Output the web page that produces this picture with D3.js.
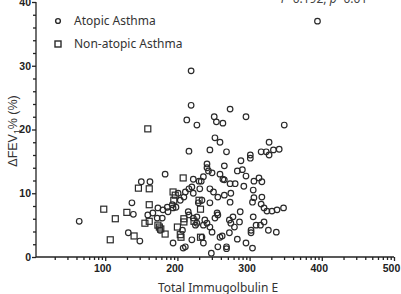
<!DOCTYPE html>
<html>
<head>
<meta charset="utf-8">
<script src="https://cdn.jsdelivr.net/npm/d3@7"></script>
<style>
  body { margin: 0; background: #fff; }
  svg { display: block; }
</style>
</head>
<body>
<div id="chart"></div>
<script>
// Atopic asthma: [total IgE, delta FEV1 %]
const atopic = [
  [394, 37.0], [219, 29.2], [219, 23.8], [273, 23.2], [213, 21.5], [227, 20.7],
  [251, 22.0], [295, 22.0], [254, 21.2], [263, 21.0], [348, 20.7], [252, 18.7],
  [259, 18.0], [327, 18.0], [216, 16.6], [245, 16.8], [268, 16.5], [316, 16.5],
  [323, 16.5], [333, 16.8], [341, 16.9], [327, 16.0], [301, 16.0], [301, 15.5],
  [288, 15.1], [241, 14.6], [265, 14.3], [241, 14.0], [243, 13.5], [248, 13.2],
  [283, 13.5], [290, 13.7], [259, 13.0], [295, 12.7], [236, 12.6], [263, 12.2],
  [265, 12.1], [313, 12.4], [306, 11.9], [317, 11.8], [233, 11.9], [273, 11.5],
  [280, 11.5], [292, 11.1], [231, 10.7], [245, 10.7], [250, 10.2], [274, 10.0],
  [305, 10.5], [265, 9.7], [256, 9.4], [317, 9.4], [306, 9.3], [183, 13.0],
  [162, 11.8], [222, 12.2], [230, 11.9], [216, 10.7], [220, 11.0], [211, 10.2],
  [64, 5.6], [137, 8.5], [139, 6.7], [132, 3.8], [148, 2.5], [159, 6.6],
  [166, 6.9], [173, 7.7], [172, 6.1], [179, 6.1], [180, 7.4], [186, 7.8],
  [187, 7.1], [176, 4.2], [194, 2.2], [193, 8.2], [194, 7.7], [198, 7.8],
  [207, 4.2], [208, 1.4], [211, 1.6], [220, 2.7], [338, 7.4], [347, 7.7],
  [331, 7.2], [324, 7.2], [316, 8.3], [320, 7.7], [304, 8.6], [305, 6.3],
  [309, 5.0], [315, 5.0], [320, 5.5], [326, 4.2], [337, 3.9], [302, 4.2],
  [302, 3.8], [295, 2.2], [304, 1.4], [283, 2.8], [287, 7.1], [286, 5.5],
  [277, 6.3], [272, 5.8], [274, 5.3], [279, 4.7], [272, 3.8], [273, 8.6],
  [268, 1.6], [268, 1.3], [256, 1.6], [247, 0.6], [259, 3.1], [262, 3.3],
  [255, 6.9], [256, 6.6], [252, 6.1], [238, 5.8], [241, 5.3], [236, 5.0],
  [245, 4.7], [248, 3.9], [236, 2.2], [234, 3.1], [245, 8.5], [234, 8.9],
  [215, 7.1], [216, 6.6], [222, 6.1], [227, 6.3], [227, 5.3], [225, 5.0],
  [229, 8.5], [201, 10.0], [204, 8.9], [222, 10.0], [209, 9.4], [150, 11.8]
];

// Non-atopic asthma
const nonAtopic = [
  [159, 20.1], [98, 7.5], [114, 6.0], [107, 2.7], [140, 3.3], [130, 7.0],
  [161, 8.2], [161, 10.7], [146, 10.8], [155, 5.3], [161, 5.6], [173, 5.0],
  [175, 4.7], [194, 10.2], [197, 9.7], [208, 12.4], [177, 4.4], [183, 3.6],
  [200, 4.7], [204, 3.5], [205, 3.1], [209, 6.0], [209, 5.5], [195, 8.9],
  [230, 8.9], [232, 7.5], [223, 5.6], [232, 3.1]
];

const yTicks = [0, 10, 20, 30, 40];
const xTicks = [100, 200, 300, 400, 500];

const W = 401, H = 294;

const svg = d3.select("#chart")
  .append("svg")
  .attr("width", W)
  .attr("height", H);

const x = d3.scaleLinear().domain([0, 500]).range([33, 394]);
const y = d3.scaleLinear().domain([0, 40]).range([257, 2]);
const axisX = 36;

// minor ticks
const yMinor = d3.range(0, 41, 2).filter(v => v % 10 !== 0);
const xMinor = [];
for (let b = 0; b < 500; b += 100) {
  for (let k = 2; k <= 9; k++) xMinor.push(b + 100 * Math.log10(k));
}

// y axis
const gy = svg.append("g").attr("transform", `translate(${axisX},0)`);
gy.call(d3.axisLeft(y).tickValues(yTicks).tickSize(4).tickPadding(1).tickFormat(d3.format("d")));
gy.append("g").call(d3.axisLeft(y).tickValues(yMinor).tickSize(3).tickFormat(""))
  .select(".domain").remove();
gy.selectAll(".domain").attr("d", `M0,${y(0)}V${y(40)}`);

// x axis
const gx = svg.append("g").attr("transform", `translate(0,${y(0)})`);
gx.call(d3.axisBottom(x).tickValues(xTicks).tickSize(4).tickPadding(4).tickFormat(d3.format("d")));
gx.selectAll(".tick text").attr("dx", -3);
gx.append("g").call(d3.axisBottom(x).tickValues(xMinor.filter(v => x(v) > axisX + 2)).tickSize(3).tickFormat(""))
  .select(".domain").remove();
gx.selectAll(".domain").attr("d", `M${axisX},0H${x(500)}`);

svg.selectAll(".domain, .tick line")
  .attr("stroke", "#222")
  .attr("stroke-width", 1.3);
svg.selectAll(".tick text")
  .attr("fill", "#222")
  .style("font-family", "Liberation Sans, Arial, sans-serif")
  .style("font-size", "10.5px")
  .style("font-weight", "bold");

// points
svg.append("g").selectAll("circle")
  .data(atopic)
  .join("circle")
  .attr("cx", d => x(d[0]))
  .attr("cy", d => y(d[1]))
  .attr("r", 2.8)
  .attr("fill", "none")
  .attr("stroke", "#2a2a2a")
  .attr("stroke-width", 1.2);

const sq = 6;
svg.append("g").selectAll("rect")
  .data(nonAtopic)
  .join("rect")
  .attr("x", d => x(d[0]) - sq / 2)
  .attr("y", d => y(d[1]) - sq / 2)
  .attr("width", sq)
  .attr("height", sq)
  .attr("fill", "none")
  .attr("stroke", "#2a2a2a")
  .attr("stroke-width", 1.2);

// legend
const legend = svg.append("g");
legend.append("circle")
  .attr("cx", 58).attr("cy", 21).attr("r", 2.4)
  .attr("fill", "none").attr("stroke", "#2a2a2a").attr("stroke-width", 1.4);
legend.append("rect")
  .attr("x", 55).attr("y", 41).attr("width", 6).attr("height", 6)
  .attr("fill", "none").attr("stroke", "#2a2a2a").attr("stroke-width", 1.4);
legend.selectAll("text")
  .data(["Atopic Asthma", "Non-atopic Asthma"])
  .join("text")
  .attr("x", 74)
  .attr("y", (d, i) => 25 + i * 23)
  .attr("fill", "#333")
  .style("font-family", "Noto Sans, sans-serif")
  .style("font-size", "12px")
  .text(d => d);

// stats annotation (cropped at top)
const stat = svg.append("text")
  .attr("x", 281)
  .attr("y", 3)
  .attr("fill", "#444")
  .style("font-family", "Noto Sans, sans-serif")
  .style("font-size", "12px");
stat.append("tspan").style("font-style", "italic").text("r");
stat.append("tspan").text("=0.192, ");
stat.append("tspan").style("font-style", "italic").text("p");
stat.append("tspan").text("=0.01");

// axis titles
svg.append("text")
  .attr("x", 218)
  .attr("y", 292)
  .attr("text-anchor", "middle")
  .attr("fill", "#333")
  .style("font-family", "Noto Sans, sans-serif")
  .style("font-size", "12px")
  .text("Total Immugolbulin E");

const yl = svg.append("text")
  .attr("transform", "translate(17,131) rotate(-90)")
  .attr("text-anchor", "middle")
  .attr("fill", "#333")
  .style("font-family", "Liberation Sans, Arial, sans-serif")
  .style("font-size", "12.5px");
yl.append("tspan").text("\u0394FEV");
yl.append("tspan").attr("dy", 3).style("font-size", "8.5px").text("1");
yl.append("tspan").attr("dy", -3).text("% (%)");
</script>
</body>
</html>
